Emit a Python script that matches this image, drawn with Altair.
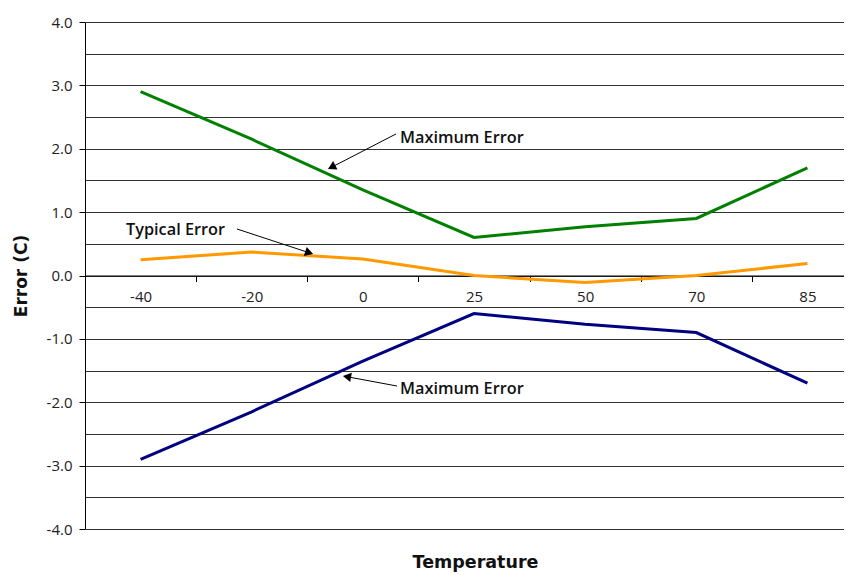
import json
import altair as alt
import pandas as pd

# ---- data ----
temps = ["-40", "-20", "0", "25", "50", "70", "85"]
max_pos = [2.9, 2.15, 1.35, 0.6, 0.77, 0.9, 1.7]
typical = [0.25, 0.37, 0.26, 0.0, -0.11, 0.0, 0.19]
max_neg = [-2.9, -2.15, -1.35, -0.6, -0.77, -0.9, -1.7]

series_keys = ["max_pos", "typical", "max_neg"]
series_colors = ["#008000", "#FF9900", "#000080"]

# annotation labels (positions in data coordinates: category index, error value)
ann_labels = ["Maximum Error", "Typical Error", "Maximum Error"]
ann_x = [2.334, -0.131, 2.334]
ann_y = [2.17, 0.72, -1.79]
arrow_x = [2.298, 0.867, 2.307]
arrow_y = [2.233, 0.734, -1.744]
head_x = [1.719, 1.517, 1.857]
head_y = [1.709, 0.359, -1.597]
head_angle = [243, 108, 280]

rows = []
for key, vals in zip(series_keys, [max_pos, typical, max_neg]):
    for i, (t, v) in enumerate(zip(temps, vals)):
        rows.append({"idx": i, "temp": t, "value": v, "series": key})
lines_df = pd.DataFrame(rows)

text_df = pd.DataFrame({"idx": ann_x, "value": ann_y, "label": ann_labels})
rule_df = pd.DataFrame({"idx": arrow_x, "value": arrow_y, "idx2": head_x, "value2": head_y})
head_df = pd.DataFrame({"idx": head_x, "value": head_y, "angle": head_angle})

W, H = 759, 507
FONT = "Open Sans"
TFONT = "DejaVu Sans"

xscale = alt.Scale(domain=[-0.5, 6.329], nice=False, zero=False)
yscale = alt.Scale(domain=[-4, 4], nice=False)

x_values = [i * 0.5 for i in range(0, 13)]
y_values = [-4 + i * 0.5 for i in range(0, 17)]

x_axis = alt.Axis(
    values=x_values,
    labelExpr=f"datum.value % 1 == 0 ? {json.dumps(temps)}[datum.value] : ''",
    tickOpacity={"condition": {"test": "datum.value % 1 != 0", "value": 1}, "value": 0},
    tickSize=6,
    tickColor="#000000",
    grid=False,
    domainColor="#000000",
    offset=-H / 2,
    labelPadding=8,
    labelFont=FONT,
    labelFontSize=15,
    labelColor="#222222",
    labelFlush=False,
    labelOverlap=False,
    title="Temperature",
    titleFont=TFONT,
    titleFontSize=17.5,
    titleFontWeight="bold",
    titleColor="#111111",
    titleY=286.5,
    titleX=390,
    titleBaseline="middle",
)

y_axis = alt.Axis(
    values=y_values,
    labelExpr="datum.value % 1 == 0 ? (datum.value < 0 ? '-' : '') + format(abs(datum.value), '.1f') : ''",
    tickOpacity={"condition": {"test": "datum.value % 1 == 0", "value": 1}, "value": 0},
    tickSize=6,
    tickColor="#000000",
    grid=True,
    gridColor="#333333",
    gridWidth=1,
    domainColor="#000000",
    labelPadding=7,
    labelFont=FONT,
    labelFontSize=15,
    labelColor="#222222",
    labelOverlap=False,
    title="Error (C)",
    titleFont=TFONT,
    titleFontSize=17,
    titleFontWeight="bold",
    titleColor="#111111",
    titleX=-64,
    titleBaseline="middle",
)

X = alt.X("idx:Q", scale=xscale, axis=x_axis)
Y = alt.Y("value:Q", scale=yscale, axis=y_axis)

lines = alt.Chart(lines_df).mark_line(strokeWidth=3).encode(
    x=X,
    y=Y,
    color=alt.Color("series:N", scale=alt.Scale(domain=series_keys, range=series_colors), legend=None),
    detail="series:N",
)

rules = alt.Chart(rule_df).mark_rule(color="#000000", strokeWidth=1).encode(
    x=X,
    y=Y,
    x2="idx2:Q",
    y2="value2:Q",
)

heads = alt.Chart(head_df).mark_point(
    shape="triangle-up", filled=True, color="#000000", size=90, opacity=1
).encode(
    x=X,
    y=Y,
    angle=alt.Angle("angle:Q", scale=None),
)

texts = alt.Chart(text_df).mark_text(
    align="left", baseline="middle", font=FONT, fontSize=16.3, fontWeight=600, color="#111111"
).encode(
    x=X,
    y=Y,
    text="label:N",
)

chart = (
    alt.layer(lines, rules, heads, texts)
    .properties(
        width=W,
        height=H,
        autosize=alt.AutoSizeParams(type="none"),
        padding={"left": 77, "top": 14, "right": 0, "bottom": 46},
        background="#ffffff",
    )
    .configure_view(stroke="transparent")
)

chart.save("out.html", embed_options={"renderer": "svg", "actions": False})
